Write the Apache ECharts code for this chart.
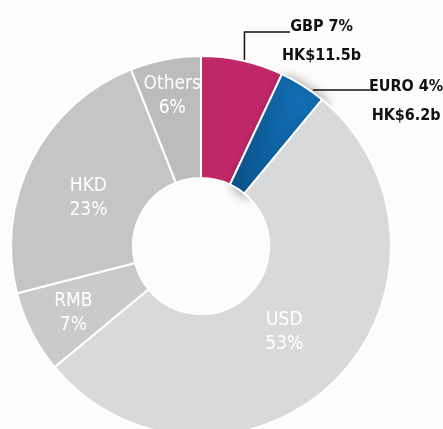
<!DOCTYPE html>
<html lang="en">
<head>
    <meta charset="utf-8"/>
    <title>Currency mix</title>
    <script src="https://cdn.jsdelivr.net/npm/echarts@6/dist/echarts.min.js"></script>
    <style>
        html, body { margin: 0; padding: 0; background: #fefcfb; }
        #currencyMix { width: 443px; height: 429px; }
    </style>
</head>
<body>
<div id="currencyMix"></div>
<script>
    // clockwise from 12 o'clock
    const currencies = ['GBP', 'EURO', 'USD', 'RMB', 'HKD', 'Others'];
    const shares = [7, 4, 53, 7, 23, 6];
    const amounts = ['HK$11.5b', 'HK$6.2b', null, null, null, null];
    const colors = ['#c0286a', '#0a66a8', '#d8d9da', '#c9cacb', '#c4c5c6', '#bbbcbd'];

    const font = "'Liberation Sans Narrow', 'DejaVu Sans Condensed', sans-serif";

    // where the outside labels sit (left edge / top), and the leader line height
    const calloutPos = {
        GBP: { x: 282, y: 15, lineY: 32, lineEnd: 290 },
        EURO: { x: 369, y: 75, lineY: 90, lineEnd: 370 }
    };
    // nudges for the inside labels
    const insideOffset = { USD: [-10, -7], RMB: [-10, 7], HKD: [5, 12], Others: [-4, -20] };

    initCurrencyMix();
    function initCurrencyMix() {
        const chart = echarts.init(document.getElementById('currencyMix'));

        const data = currencies.map(function (name, i) {
            const item = { name: name, value: shares[i], itemStyle: { color: colors[i] } };
            if (amounts[i]) {
                item.label = {
                    position: 'outside',
                    overflow: 'none',
                    formatter: '{a|' + name + ' ' + shares[i] + '%}\n{b|' + amounts[i] + '}',
                    rich: {
                        a: { fontFamily: font, fontSize: 16, fontWeight: 'bold', color: '#111', lineHeight: 24, align: 'center' },
                        b: { fontFamily: font, fontSize: 16, fontWeight: 'bold', color: '#111', lineHeight: 34, align: 'center' }
                    }
                };
                item.labelLine = {
                    show: true,
                    length: 10,
                    length2: 20,
                    lineStyle: { color: '#111', width: 1.5 }
                };
                if (name === 'EURO') {
                    item.itemStyle.color = new echarts.graphic.LinearGradient(0, 1, 1, 0, [
                        { offset: 0, color: '#0b5690' },
                        { offset: 1, color: '#1474bb' }
                    ]);
                    item.itemStyle.shadowBlur = 12;
                    item.itemStyle.shadowOffsetX = 4;
                    item.itemStyle.shadowOffsetY = 3;
                    item.itemStyle.shadowColor = 'rgba(0,0,0,0.4)';
                }
            } else {
                item.label = { offset: insideOffset[name] };
            }
            return item;
        });

        const option = {
            animation: false,
            series: [{
                type: 'pie',
                center: [201, 246],
                radius: [68, 190],
                startAngle: 90,
                clockwise: true,
                avoidLabelOverlap: false,
                itemStyle: { borderColor: '#fff', borderWidth: 2 },
                label: {
                    show: true,
                    position: 'inside',
                    color: '#fff',
                    fontFamily: font,
                    fontSize: 19,
                    lineHeight: 24,
                    formatter: '{b}\n{c}%'
                },
                labelLine: { show: false },
                labelLayout: function (params) {
                    const name = currencies[params.dataIndex];
                    const pos = calloutPos[name];
                    if (!pos) return {};
                    const out = { x: pos.x, y: pos.y, align: 'left', verticalAlign: 'top' };
                    const pts = params.labelLinePoints;
                    if (pts && pts.length) {
                        const p0 = pts[0];
                        out.labelLinePoints = name === 'GBP'
                            ? [[p0[0] + 2, p0[1]], [p0[0] + 2, pos.lineY], [pos.lineEnd, pos.lineY]]
                            : [[p0[0] + 10, pos.lineY], [p0[0] + 20, pos.lineY], [pos.lineEnd, pos.lineY]];
                    }
                    return out;
                },
                emphasis: { disabled: true },
                data: data
            }]
        };
        chart.setOption(option);
    }
</script>
</body>
</html>
